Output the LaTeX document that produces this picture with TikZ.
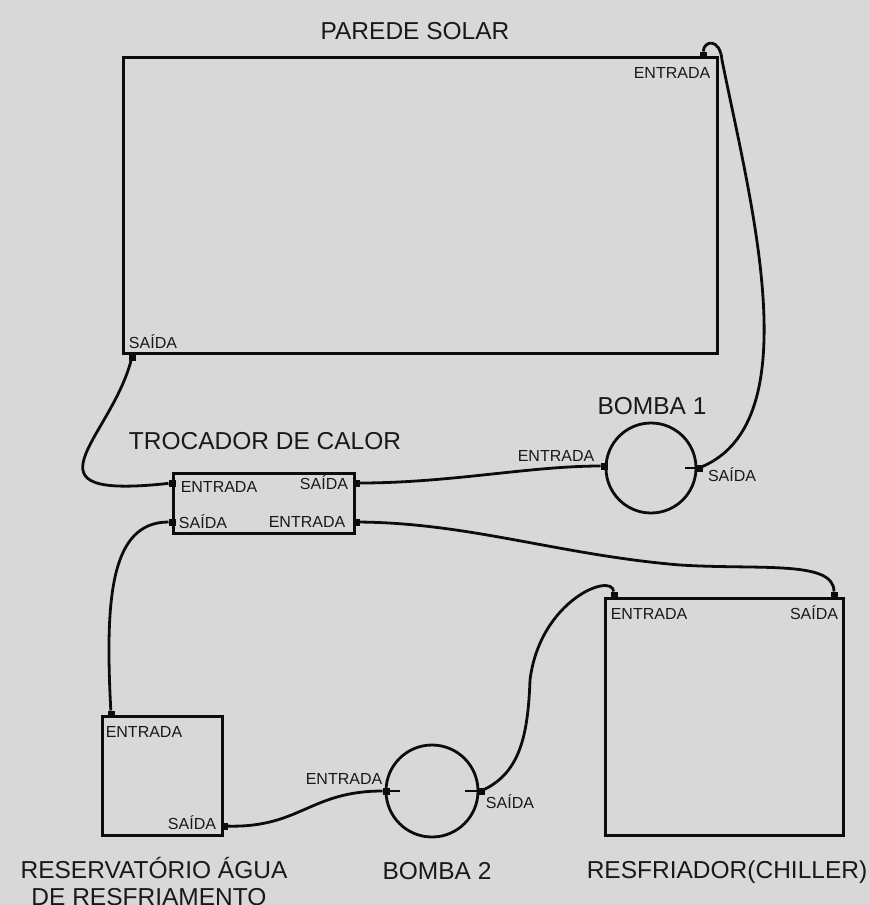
\documentclass[tikz,border=0pt]{standalone}
\usepackage{fontspec}
\setmainfont{Liberation Sans}
\definecolor{bg}{RGB}{216,216,216}
\definecolor{linec}{RGB}{12,12,12}
\definecolor{txt}{RGB}{25,25,25}
\tikzset{
  box/.style={draw=linec, line width=3pt, inner sep=0pt, outer sep=0pt},
  pump/.style={circle, draw=linec, line width=2.8pt, inner sep=0pt, outer sep=0pt},
  port/.style={fill=linec, minimum width=7pt, minimum height=7pt, inner sep=0pt, outer sep=0pt},
  lbl/.style={font=\fontsize{16}{18}\selectfont, text=txt, inner sep=0pt, anchor=base},
  ttl/.style={font=\fontsize{24.5}{28}\selectfont, text=txt, inner sep=0pt, anchor=base},
  pipe/.style={draw=linec, line width=2.8pt},
  tick/.style={draw=linec, line width=2.8pt}
}
\begin{document}
\begin{tikzpicture}[x=1pt,y=-1pt]
\useasboundingbox (0,0) rectangle (870,905);
\fill[bg] (0,0) rectangle (870,905);

% blocks
\node[box, minimum width=594pt, minimum height=296pt] (parede) at (420,205) {};
\node[box, minimum width=181pt, minimum height=60pt] (troc) at (263.5,503) {};
\node[box, minimum width=238pt, minimum height=237pt] (chiller) at (724,716.5) {};
\node[box, minimum width=120pt, minimum height=119pt] (reserv) at (162,775.5) {};
\node[pump, minimum size=90pt] (b1) at (651,468) {};
\node[pump, minimum size=92pt] (b2) at (432,791) {};

% ticks inside pumps
\coordinate (b1t) at (685,468);
\coordinate (b2tl) at (400,791);
\coordinate (b2tr) at (465,791);

% ports
\node[port] (pe) at (703,55) {};
\node[port] (ps) at (132,357) {};
\node[port] (tEl) at (172,483) {};
\node[port] (tSr) at (356,483) {};
\node[port] (tSl) at (172,522) {};
\node[port] (tEr) at (356,522) {};
\node[port] (b1e) at (604,466) {};
\node[port] (b1s) at (699,468) {};
\node[port] (ce) at (614,595) {};
\node[port] (cs) at (834,595) {};
\node[port] (re) at (111,714) {};
\node[port] (rs) at (224,826) {};
\node[port] (b2e) at (386,791) {};
\node[port] (b2s) at (481,791) {};

\draw[tick] (b1t) -- (b1s.center);
\draw[tick] (b2e.center) -- (b2tl);
\draw[tick] (b2tr) -- (b2s.center);

% titles
\node[ttl] (tparede) at (415,39) {PAREDE SOLAR};
\node[ttl] (ttroc) at (265,449) {TROCADOR DE CALOR};
\node[ttl] (tb1) at (652,414) {BOMBA 1};
\node[ttl] (tb2) at (437,879) {BOMBA 2};
\node[ttl] (tchiller) at (727,878) {RESFRIADOR(CHILLER)};
\node[ttl] (tres1) at (154,878) {RESERVATÓRIO ÁGUA};
\node[ttl] (tres2) at (149,905) {DE RESFRIAMENTO};

% labels
\node[lbl] (lpe) at (672,78) {ENTRADA};
\node[lbl] (lps) at (153,348) {SAÍDA};
\node[lbl] (ltEl) at (219,492) {ENTRADA};
\node[lbl] (ltSr) at (324,489) {SAÍDA};
\node[lbl] (ltSl) at (203,528) {SAÍDA};
\node[lbl] (ltEr) at (307,527) {ENTRADA};
\node[lbl] (lb1e) at (556,461) {ENTRADA};
\node[lbl] (lb1s) at (732,481) {SAÍDA};
\node[lbl] (lce) at (649,619) {ENTRADA};
\node[lbl] (lcs) at (814,619) {SAÍDA};
\node[lbl] (lre) at (144,737) {ENTRADA};
\node[lbl] (lrs) at (192,829) {SAÍDA};
\node[lbl] (lb2e) at (344,784) {ENTRADA};
\node[lbl] (lb2s) at (510,808) {SAÍDA};

% pipes
\coordinate (k1) at (722,60);
\draw[pipe] (pe) .. controls (704,40) and (720,38) .. (k1)
  .. controls (750,200) and (810,420) .. (b1s);
\draw[pipe] (ps) .. controls (110,440) and (15,500) .. (tEl);
\draw[pipe] (tSr) .. controls (450,483) and (530,466) .. (b1e);
\coordinate (k2) at (680,565);
\draw[pipe] (tEr) .. controls (470,523) and (560,555) .. (k2)
  .. controls (760,570) and (834,560) .. (cs);
\draw[pipe] (tSl) .. controls (110,522) and (105,600) .. (re);
\draw[pipe] (rs) .. controls (300,828) and (310,791) .. (b2e);
\coordinate (k3) at (530,680);
\draw[pipe] (b2s) .. controls (520,772) and (528,735) .. (k3)
  .. controls (540,600) and (612,572) .. (ce);
\end{tikzpicture}
\end{document}
